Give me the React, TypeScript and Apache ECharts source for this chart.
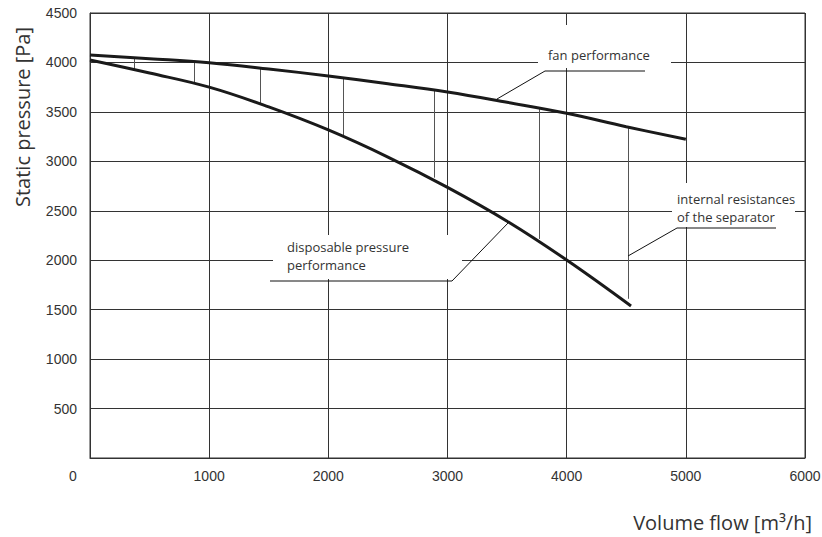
import React, { useEffect, useRef } from "react";
import * as echarts from "echarts";

const xTicks = [0, 1000, 2000, 3000, 4000, 5000, 6000];
const yTicks = [0, 500, 1000, 1500, 2000, 2500, 3000, 3500, 4000, 4500];

const fanFlow = [0, 500, 1000, 1500, 2000, 2500, 3000, 3500, 4000, 4500, 5000];
const fanPressure = [4075, 4038, 3997, 3934, 3863, 3785, 3701, 3597, 3486, 3350, 3223];

const dispFlow = [0, 500, 1000, 1500, 2000, 2500, 3000, 3500, 4000, 4540];
const dispPressure = [4025, 3893, 3750, 3550, 3317, 3043, 2737, 2395, 2002, 1537];

const resFlow = [369, 872, 1426, 2122, 2886, 3767, 4513];
const resTop = [4050, 4000, 3940, 3843, 3718, 3530, 3347];
const resBottom = [3932, 3792, 3590, 3262, 2835, 2215, 1610];

const TXT = "#333";
const GRID = "#333";
const ANN_FONT = "Open Sans";

export default function App() {
  const ref = useRef<HTMLDivElement>(null);
  useEffect(() => {
    if (!ref.current) return;
    const chart = echarts.init(ref.current, undefined, { renderer: "svg" });
    const annText = (text: string, x: number, y: number) => ({
      type: "text",
      z: 10,
      x,
      y,
      style: {
        text,
        fill: TXT,
        font: `13px "${ANN_FONT}"`,
        textAlign: "left",
        textVerticalAlign: "middle",
      },
    });
    const box = (x: number, y: number, w: number, h: number) => ({
      type: "rect",
      z: 1,
      shape: { x, y, width: w, height: h },
      style: { fill: "#fff", stroke: null },
    });
    const leader = (pts: number[][]) => ({
      type: "polyline",
      z: 10,
      shape: { points: pts },
      style: { stroke: "#111", lineWidth: 1, fill: null },
    });
    chart.setOption({
      animation: false,
      backgroundColor: "#fff",
      grid: {
        left: 90,
        right: 17,
        top: 13,
        bottom: 79,
        show: true,
        borderColor: GRID,
        borderWidth: 1,
        containLabel: false,
        outerBoundsMode: "none",
      },
      xAxis: {
        type: "value",
        min: xTicks[0],
        max: xTicks[xTicks.length - 1],
        interval: 1000,
        axisLine: { show: true, lineStyle: { color: GRID, width: 1 } },
        axisTick: { show: false },
        splitLine: { show: true, lineStyle: { color: GRID, width: 1 } },
        axisLabel: {
          margin: 11,
          color: TXT,
          fontSize: 14,
          fontFamily: "Liberation Sans",
          formatter: (v: number) => (v === 0 ? "" : String(v)),
        },
      },
      yAxis: {
        type: "value",
        min: yTicks[0],
        max: yTicks[yTicks.length - 1],
        interval: 500,
        axisLine: { show: true, lineStyle: { color: GRID, width: 1 } },
        axisTick: { show: false },
        splitLine: { show: true, lineStyle: { color: GRID, width: 1 } },
        axisLabel: {
          margin: 13,
          color: TXT,
          fontSize: 14,
          fontFamily: "Liberation Sans",
          formatter: (v: number) => (v === 0 ? "" : String(v)),
        },
      },
      series: [
        {
          name: "fan performance",
          type: "line",
          z: 3,
          smooth: 0.4,
          symbol: "none",
          lineStyle: { color: "#1a1a1a", width: 3 },
          data: fanFlow.map((f, i) => [f, fanPressure[i]]),
        },
        {
          name: "disposable pressure performance",
          type: "line",
          z: 3,
          smooth: 0.4,
          symbol: "none",
          lineStyle: { color: "#1a1a1a", width: 3 },
          data: dispFlow.map((f, i) => [f, dispPressure[i]]),
        },
        {
          name: "internal resistances",
          type: "lines",
          coordinateSystem: "cartesian2d",
          z: 2,
          lineStyle: { color: "#555", width: 1, opacity: 1 },
          data: resFlow.map((f, i) => ({ coords: [[f, resTop[i]], [f, resBottom[i]]] })),
        },
      ],
      graphic: [
        box(538, 25, 133, 43),
        box(273, 235, 189, 44),
        box(672, 183, 123, 44),
        annText("fan performance", 548, 55),
        annText("disposable pressure", 287, 247),
        annText("performance", 287, 265),
        annText("internal resistances", 677, 199),
        annText("of the separator", 677, 217),
        leader([[497, 99], [545, 71], [645, 71]]),
        leader([[270, 281], [452, 281], [509, 222]]),
        leader([[628, 256], [677, 228], [776, 228]]),
        {
          type: "text",
          z: 10,
          x: 73,
          y: 476,
          style: {
            text: "0",
            fill: TXT,
            font: '14px "Liberation Sans"',
            textAlign: "center",
            textVerticalAlign: "middle",
          },
        },
        {
          type: "text",
          z: 10,
          x: 22,
          y: 117,
          rotation: Math.PI / 2,
          style: {
            text: "Static pressure [Pa]",
            fill: TXT,
            font: '20px "Open Sans"',
            textAlign: "center",
            textVerticalAlign: "middle",
          },
        },
        {
          type: "text",
          z: 10,
          x: 812,
          y: 522,
          style: {
            text: "Volume flow [m³/h]",
            fill: TXT,
            font: '20px "Open Sans"',
            textAlign: "right",
            textVerticalAlign: "middle",
          },
        },
      ],
    });
    return () => chart.dispose();
  }, []);
  return <div ref={ref} style={{ width: 822, height: 537, position: "absolute", left: 0, top: 0 }} />;
}
